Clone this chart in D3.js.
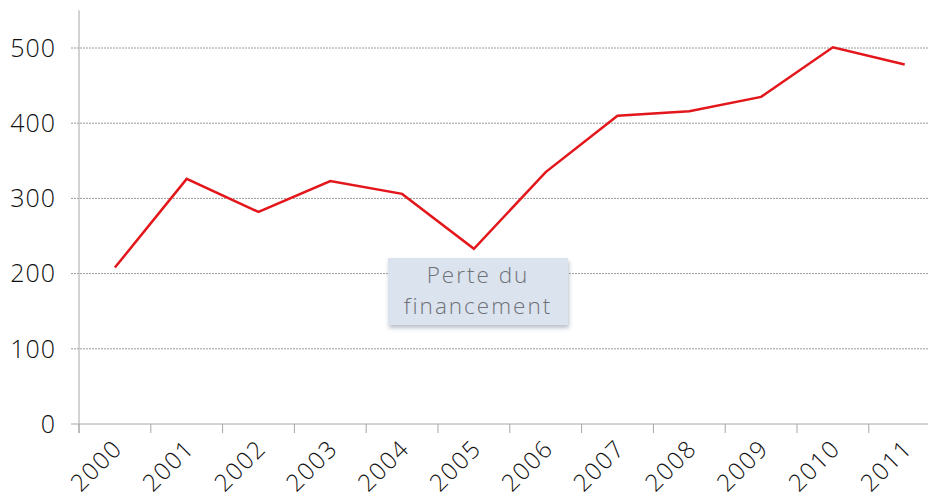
<!DOCTYPE html>
<html>
<head>
<meta charset="utf-8">
<script src="https://cdn.jsdelivr.net/npm/d3@7"></script>
<style>
  body { margin: 0; background: #fff; }
  svg { display: block; font-family: "Open Sans", "Lato", sans-serif; font-weight: 300; }
</style>
</head>
<body>
<div id="chart"></div>
<script>
const years = ["2000", "2001", "2002", "2003", "2004", "2005", "2006", "2007", "2008", "2009", "2010", "2011"];
const values = [208, 326, 282, 323, 306, 233, 335, 410, 416, 435, 501, 478];
const yTicks = [0, 100, 200, 300, 400, 500];
const noteLines = ["Perte du", "financement"];

const width = 928;
const height = 501;
const left = 79;
const bottom = 424;

const svg = d3.select("#chart").append("svg")
  .attr("width", width)
  .attr("height", height);

const x = d3.scaleBand().domain(years).range([left, left + 12 * 71.8]);
const y = d3.scaleLinear().domain([0, 550]).range([bottom, bottom - 550 * 0.752]);

// grid
svg.append("g")
  .selectAll("line")
  .data(yTicks.filter(d => d > 0))
  .join("line")
  .attr("x1", left - 8)
  .attr("x2", width)
  .attr("y1", d => y(d))
  .attr("y2", d => y(d))
  .attr("stroke", "#9a9a9a")
  .attr("stroke-width", 1)
  .attr("stroke-dasharray", "2,1");

// y axis
svg.append("line")
  .attr("x1", left).attr("x2", left)
  .attr("y1", y(550)).attr("y2", bottom + 9)
  .attr("stroke", "#a6a6a6");

svg.append("g")
  .selectAll("text")
  .data(yTicks)
  .join("text")
  .attr("x", 56)
  .attr("y", d => y(d))
  .attr("dy", "0.35em")
  .attr("text-anchor", "end")
  .attr("font-size", 25)
  .attr("letter-spacing", 1)
  .attr("fill", "#111")
  .text(d => d);

// x axis
svg.append("line")
  .attr("x1", left - 8).attr("x2", width)
  .attr("y1", bottom).attr("y2", bottom)
  .attr("stroke", "#a6a6a6");

svg.append("g")
  .selectAll("line")
  .data(years)
  .join("line")
  .attr("x1", d => x(d)).attr("x2", d => x(d))
  .attr("y1", bottom).attr("y2", bottom + 9)
  .attr("stroke", "#a6a6a6");

svg.append("g")
  .selectAll("text")
  .data(years)
  .join("text")
  .attr("transform", d => `translate(${x(d) + x.bandwidth() / 2 + 3},${bottom + 20}) rotate(-45)`)
  .attr("text-anchor", "end")
  .attr("dy", "0.35em")
  .attr("font-size", 24)
  .attr("letter-spacing", 1.5)
  .attr("fill", "#111")
  .text(d => d);

// line
const line = d3.line()
  .x((d, i) => x(years[i]) + x.bandwidth() / 2)
  .y(d => y(d));

svg.append("path")
  .datum(values)
  .attr("d", line)
  .attr("fill", "none")
  .attr("stroke", "#e3171b")
  .attr("stroke-width", 2.5)
  .attr("stroke-linejoin", "miter");

// annotation
const defs = svg.append("defs");
const filter = defs.append("filter").attr("id", "shadow")
  .attr("x", "-10%").attr("y", "-10%").attr("width", "125%").attr("height", "130%");
filter.append("feDropShadow")
  .attr("dx", 1).attr("dy", 3).attr("stdDeviation", 2)
  .attr("flood-color", "#8a96a8").attr("flood-opacity", 0.6);

const note = svg.append("g").attr("transform", "translate(388,258)");
note.append("rect")
  .attr("width", 180).attr("height", 67)
  .attr("fill", "#dbe3ef")
  .attr("filter", "url(#shadow)");
note.selectAll("text")
  .data(noteLines)
  .join("text")
  .attr("x", 90)
  .attr("y", (d, i) => 25 + i * 31)
  .attr("text-anchor", "middle")
  .attr("font-size", 22.5)
  .attr("letter-spacing", 2)
  .attr("fill", "#6f7277")
  .text(d => d);
</script>
</body>
</html>
